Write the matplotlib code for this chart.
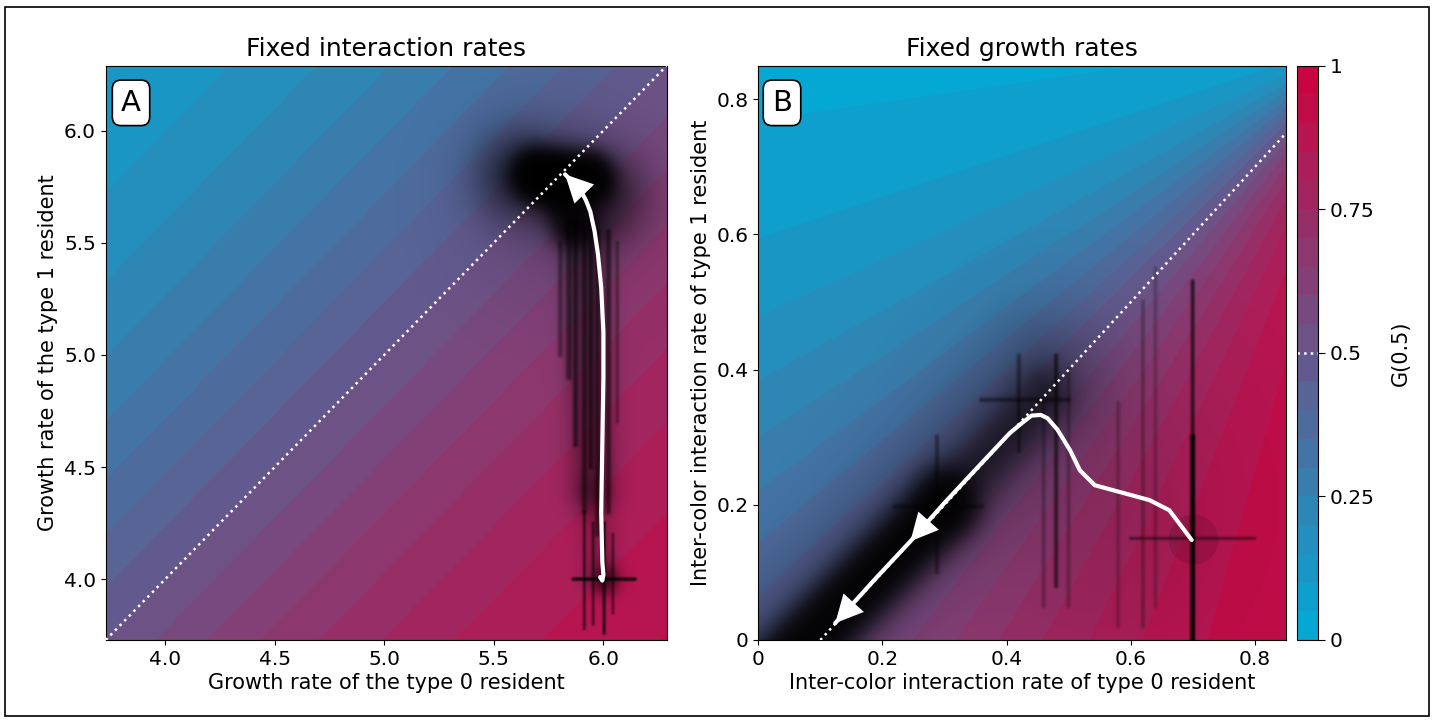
"""Invasion trajectories over the G(0.5) landscape, two panels."""

import numpy as np
import matplotlib
matplotlib.use("Agg")
import matplotlib.pyplot as plt
from matplotlib.colors import LinearSegmentedColormap
from matplotlib.patches import Rectangle

# colour scale of G(0.5)
CMAP_LOW = "#00ACD7"
CMAP_HIGH = "#CF003D"
LEVELS = np.linspace(0, 1, 21)
CBAR_TICKS = [0, 0.25, 0.5, 0.75, 1]
CBAR_LABELS = ["0", "0.25", "0.5", "0.75", "1"]

# panel A: growth rates (type 0 on x, type 1 on y)
A_LIM = (3.73, 6.29)
A_TICKS = [4.0, 4.5, 5.0, 5.5, 6.0]
A_STEEP = 0.87
A_TRAJ_X = [5.985, 5.995, 6.000, 5.995, 5.99, 5.995, 6.00, 6.00, 5.99, 5.975, 5.96, 5.94, 5.92, 5.895, 5.87, 5.845, 5.825]
A_TRAJ_Y = [4.010, 3.995, 4.020, 4.080, 4.30, 4.600, 4.90, 5.10, 5.30, 5.450, 5.55, 5.64, 5.69, 5.735, 5.76, 5.785, 5.805]
A_CLOUD = [
    (5.70, 5.80, 5.92, 5.78, 0.065, 5.0),
    (5.80, 5.74, 5.86, 5.58, 0.060, 2.0),
    (5.62, 5.80, 5.98, 5.70, 0.13, 0.9),
    (5.80, 5.70, 5.80, 5.70, 0.28, 0.15),
    (5.92, 5.55, 5.95, 4.40, 0.065, 0.6),
    (5.95, 4.40, 5.98, 4.10, 0.050, 0.25),
    (5.84, 5.60, 5.84, 4.90, 0.010, 0.7),
    (5.87, 5.60, 5.87, 4.60, 0.008, 0.8),
    (5.91, 5.60, 5.91, 4.30, 0.008, 0.7),
    (5.94, 5.60, 5.94, 4.50, 0.008, 0.8),
    (5.97, 5.55, 5.97, 4.20, 0.008, 0.7),
    (6.02, 5.55, 6.02, 4.30, 0.008, 0.7),
    (5.80, 5.50, 5.80, 5.00, 0.008, 0.5),
    (6.06, 5.50, 6.06, 4.70, 0.006, 0.4),
    (6.00, 4.00, 6.00, 4.00, 0.045, 0.9),
    (5.86, 4.00, 6.14, 4.00, 0.005, 1.8),
    (5.91, 3.78, 5.91, 4.30, 0.005, 0.8),
    (5.95, 3.80, 5.95, 4.25, 0.005, 0.7),
    (6.00, 3.76, 6.00, 4.25, 0.005, 1.2),
    (6.04, 3.85, 6.04, 4.20, 0.005, 0.6),
]

# panel B: inter-color interaction rates
B_LIM = (0.0, 0.85)
B_TICKS = [0, 0.2, 0.4, 0.6, 0.8]
B_TICKLABELS = ["0", "0.2", "0.4", "0.6", "0.8"]
B_DIAG = ([0.1, 0.85], [0.0, 0.75])
B_FOCUS = (1.0, 0.9)   # contour lines of G fan out from here
B_STEEP = 4.5
B_TRAJ_X = [0.698, 0.680, 0.662, 0.630, 0.582, 0.542, 0.518, 0.502, 0.482, 0.466, 0.455, 0.440, 0.426, 0.405,
            0.360, 0.300, 0.245, 0.190, 0.124]
B_TRAJ_Y = [0.148, 0.170, 0.192, 0.207, 0.219, 0.229, 0.251, 0.281, 0.311, 0.328, 0.333, 0.332, 0.322, 0.306,
            0.262, 0.203, 0.146, 0.092, 0.025]
B_ARROW_AT = [16, 18]
B_START = (0.70, 0.15)
B_CLOUD = [
    (0.04, -0.04, 0.30, 0.20, 0.030, 3.0),
    (0.30, 0.20, 0.46, 0.36, 0.030, 0.8),
    (0.00, -0.06, 0.46, 0.38, 0.070, 0.35),
    (0.55, 0.20, 0.55, 0.20, 0.150, 0.10),
    (0.70, 0.00, 0.70, 0.30, 0.0022, 3.0),
    (0.70, 0.30, 0.70, 0.53, 0.0022, 1.0),
    (0.60, 0.15, 0.80, 0.15, 0.0018, 0.6),
    (0.48, 0.08, 0.48, 0.42, 0.0025, 0.8),
    (0.46, 0.05, 0.46, 0.35, 0.0025, 0.3),
    (0.50, 0.05, 0.50, 0.40, 0.0025, 0.3),
    (0.62, 0.02, 0.62, 0.50, 0.0025, 0.3),
    (0.64, 0.05, 0.64, 0.55, 0.0025, 0.25),
    (0.58, 0.02, 0.58, 0.35, 0.0025, 0.25),
    (0.22, 0.197, 0.36, 0.197, 0.0025, 0.5),
    (0.288, 0.10, 0.288, 0.30, 0.0025, 0.5),
    (0.36, 0.355, 0.50, 0.355, 0.0025, 0.6),
    (0.42, 0.28, 0.42, 0.42, 0.0025, 0.5),
]


def cloud_alpha(xx, yy, segments):
    dens = np.zeros_like(xx)
    for x0, y0, x1, y1, s, w in segments:
        px, py = x1 - x0, y1 - y0
        l2 = px * px + py * py
        if l2 == 0:
            t = 0.0
        else:
            t = np.clip(((xx - x0) * px + (yy - y0) * py) / l2, 0, 1)
        d2 = (xx - (x0 + t * px)) ** 2 + (yy - (y0 + t * py)) ** 2
        dens += w * np.exp(-d2 / (2 * s * s))
    return 1 - np.exp(-dens)


def draw_cloud(ax, lim, segments):
    g = np.linspace(lim[0], lim[1], 1000)
    xx, yy = np.meshgrid(g, g)
    rgba = np.zeros(xx.shape + (4,))
    rgba[..., 3] = cloud_alpha(xx, yy, segments)
    ax.imshow(rgba, extent=(lim[0], lim[1], lim[0], lim[1]), origin="lower",
              aspect="auto", interpolation="bilinear", zorder=2)


def arrow_head(ax, p0, p1):
    ax.annotate("", xy=p1, xytext=p0,
                arrowprops=dict(arrowstyle="-|>,head_length=0.9,head_width=0.45",
                                color="white", lw=0, mutation_scale=22,
                                shrinkA=0, shrinkB=0), zorder=5)


def logistic(z):
    return 1 / (1 + np.exp(-z))


def main():
    plt.rcParams["font.family"] = "DejaVu Sans"
    cmap = LinearSegmentedColormap.from_list("g05", [CMAP_LOW, CMAP_HIGH])

    fig = plt.figure(figsize=(14.35, 7.23), dpi=100)
    ax_a = fig.add_axes([0.0737, 0.1148, 0.3911, 0.7946])
    ax_b = fig.add_axes([0.5284, 0.1148, 0.3678, 0.7946])
    cax = fig.add_axes([0.9038, 0.1148, 0.0146, 0.7946])

    # --- panel A
    g = np.linspace(A_LIM[0], A_LIM[1], 400)
    xx, yy = np.meshgrid(g, g)
    za = logistic(A_STEEP * (xx - yy))
    cf = ax_a.contourf(xx, yy, za, levels=LEVELS, cmap=cmap, vmin=0, vmax=1, zorder=1)
    draw_cloud(ax_a, A_LIM, A_CLOUD)
    ax_a.plot(A_LIM, A_LIM, ":", color="white", lw=1.8, zorder=3)
    ax_a.plot(A_TRAJ_X, A_TRAJ_Y, color="white", lw=3, solid_capstyle="round",
              solid_joinstyle="round", zorder=4)
    arrow_head(ax_a, (A_TRAJ_X[-2], A_TRAJ_Y[-2]), (A_TRAJ_X[-1], A_TRAJ_Y[-1]))
    ax_a.set_xlim(A_LIM)
    ax_a.set_ylim(A_LIM)
    ax_a.set_xticks(A_TICKS)
    ax_a.set_yticks(A_TICKS)
    ax_a.set_title("Fixed interaction rates", fontsize=18, pad=7)
    ax_a.set_xlabel("Growth rate of the type 0 resident", fontsize=15, labelpad=3)
    ax_a.set_ylabel("Growth rate of the type 1 resident", fontsize=15)

    # --- panel B
    g = np.linspace(B_LIM[0], B_LIM[1], 400)
    xx, yy = np.meshgrid(g, g)
    ang = np.arctan2(B_FOCUS[1] - yy, B_FOCUS[0] - xx)
    zb = logistic(B_STEEP * (ang - np.pi / 4))
    ax_b.contourf(xx, yy, zb, levels=LEVELS, cmap=cmap, vmin=0, vmax=1, zorder=1)
    draw_cloud(ax_b, B_LIM, B_CLOUD)
    ax_b.plot(*B_START, "o", ms=36, color="black", alpha=0.12, mew=0, zorder=2)
    ax_b.plot(*B_DIAG, ":", color="white", lw=1.8, zorder=3)
    ax_b.plot(B_TRAJ_X, B_TRAJ_Y, color="white", lw=3, solid_capstyle="round",
              solid_joinstyle="round", zorder=4)
    for i in B_ARROW_AT:
        arrow_head(ax_b, (B_TRAJ_X[i - 1], B_TRAJ_Y[i - 1]), (B_TRAJ_X[i], B_TRAJ_Y[i]))
    ax_b.set_xlim(B_LIM)
    ax_b.set_ylim(B_LIM)
    ax_b.set_xticks(B_TICKS, B_TICKLABELS)
    ax_b.set_yticks(B_TICKS, B_TICKLABELS)
    ax_b.set_title("Fixed growth rates", fontsize=18, pad=7)
    ax_b.set_xlabel("Inter-color interaction rate of type 0 resident", fontsize=15, labelpad=3)
    ax_b.set_ylabel("Inter-color interaction rate of type 1 resident", fontsize=15)

    for ax, tag in ((ax_a, "A"), (ax_b, "B")):
        ax.tick_params(labelsize=14.5)
        ax.text(0.045, 0.935, tag, transform=ax.transAxes, fontsize=21,
                ha="center", va="center", zorder=6,
                bbox=dict(boxstyle="round,pad=0.3", fc="white", ec="black", lw=1.2))

    cb = fig.colorbar(cf, cax=cax, ticks=CBAR_TICKS)
    cb.set_ticklabels(CBAR_LABELS)
    cb.ax.tick_params(labelsize=14.5, length=5)
    cb.set_label("G(0.5)", fontsize=15, labelpad=12)
    cb.ax.axhline(0.5, color="white", ls=":", lw=1.8)

    fig.add_artist(Rectangle((0.0033, 0.0097), 0.9925, 0.9806, transform=fig.transFigure,
                             fill=False, ec="black", lw=1.2))
    fig.savefig("out.png", dpi=100)


if __name__ == "__main__":
    main()
